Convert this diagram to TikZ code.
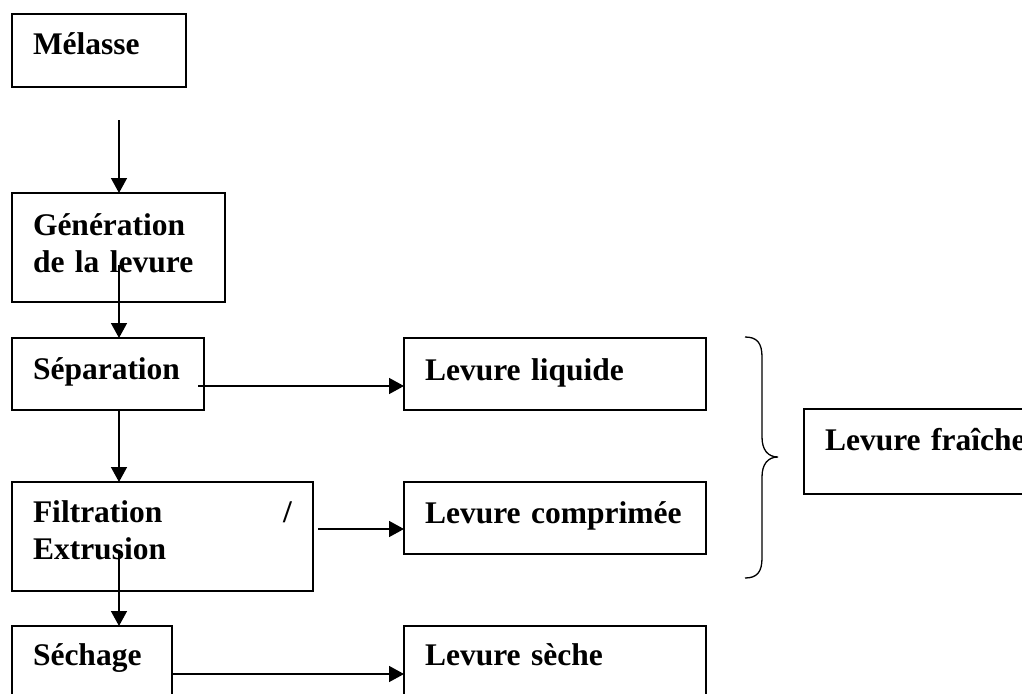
\documentclass[tikz,border=0pt]{standalone}
\usepackage{fontspec}
\setmainfont{Liberation Serif}
\usetikzlibrary{arrows.meta}
\usetikzlibrary{calc}

\begin{document}
\begin{tikzpicture}[x=1pt,y=-1pt,
  every node/.style={draw,line width=1.6pt,anchor=north west,outer sep=0pt,align=left,
    inner xsep=21pt,inner ysep=0pt,font=\fontsize{31.5}{37}\selectfont\bfseries},
  flow/.style={line width=1.5pt,-{Triangle[length=15pt,width=16pt]}}]
  \useasboundingbox (0,0) rectangle (1022,693);

  % left column
  \node[text width=132pt,text height=41pt,text depth=32pt] (melasse) at (12,14) {Mélasse};
  \node[text width=171pt,text height=42pt,text depth=67pt] (generation) at (12,193) {Génération\\de la levure};
  \node[text width=150pt,text height=41pt,text depth=31pt] (separation) at (12,338) {Séparation};
  \node[text width=259pt,text height=40pt,text depth=69pt] (filtration) at (12,482) {Filtration \hfill /\\Extrusion};
  \node[text width=118pt,text height=39pt,text depth=40pt] (sechage) at (12,626) {Séchage};

  % products
  \node[text width=260pt,text height=42pt,text depth=30pt] (liquide) at (404,338) {Levure liquide};
  \node[text width=260pt,text height=41pt,text depth=31pt] (comprimee) at (404,482) {Levure comprimée};
  \node[text width=260pt,text height=39pt,text depth=40pt] (seche) at (404,626) {Levure sèche};
  \node[text width=214pt,text height=41pt,text depth=44pt] (fraiche) at (804,409) {Levure fraîche};

  \coordinate (spine) at (119,0);
  \draw[flow] ($(melasse.south -| spine)+(0,33)$) -- (generation.north -| spine);
  \draw[flow] ($(generation.south -| spine)+(0,-37)$) -- (separation.north -| spine);
  \draw[flow] (separation.south -| spine) -- (filtration.north -| spine);
  \draw[flow] ($(filtration.south -| spine)+(0,-38)$) -- (sechage.north -| spine);

  \foreach \src/\dst/\dx/\dy in {separation/liquide/-6/12, filtration/comprimee/5/-7.5, sechage/seche/0/8.5}
    \draw[flow] ($(\src.east)+(\dx,\dy)$) coordinate (from) -- (\dst.west |- from);

  % brace
  \draw[line width=1.3pt] (745,337) .. controls (757,337) and (762,343) .. (762,357) -- (762,437)
    .. controls (762,450) and (768,457) .. (778,457)
    .. controls (768,457) and (762,464) .. (762,477) -- (762,558)
    .. controls (762,572) and (757,578) .. (745,578);
\end{tikzpicture}
\end{document}
